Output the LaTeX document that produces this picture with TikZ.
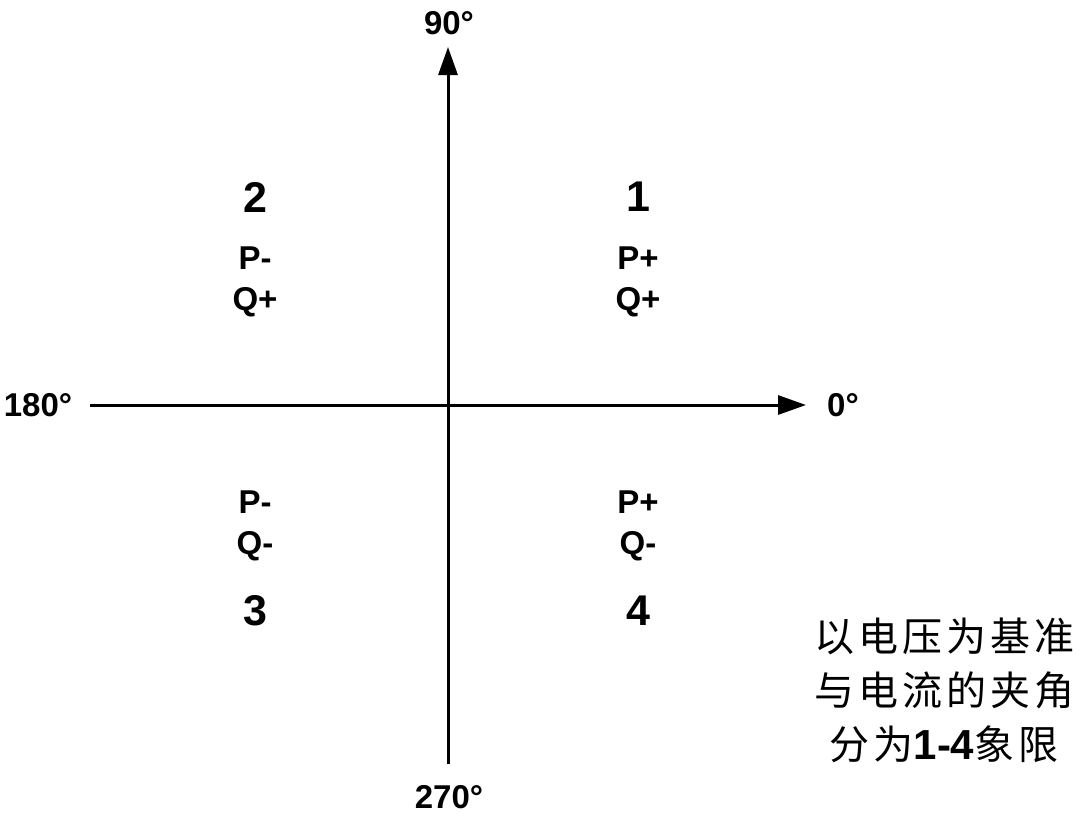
\documentclass[tikz,border=0pt]{standalone}
\usepackage{fontspec}
\setmainfont{Liberation Sans}
\newfontfamily\cjk{Noto Sans CJK SC}
\usetikzlibrary{arrows.meta}
\newcommand{\gp}{\hspace{4pt}}
\begin{document}
\begin{tikzpicture}[x=1pt,y=-1pt,
  axis/.style={line width=3pt,-{Triangle[length=28pt,width=19pt]}},
  deg/.style={font=\fontsize{33}{33}\selectfont\bfseries,inner sep=0pt},
  qnum/.style={font=\fontsize{43}{43}\selectfont\bfseries,inner sep=0pt},
  sign/.style={font=\fontsize{33}{41}\selectfont\bfseries,inner sep=0pt,align=center},
  note/.style={font=\fontsize{40}{54}\selectfont\cjk,inner sep=0pt,align=center}]
\useasboundingbox (0,0) rectangle (1080,819);
\coordinate (left) at (90,405);
\coordinate (right) at (806,405);
\coordinate (bottom) at (448,764);
\coordinate (top) at (448,47);
\draw[axis] (left) -- (right);
\draw[axis] (bottom) -- (top);
\node[deg] (d90) at (449,23) {90°};
\node[deg] (d0) at (843,405) {0°};
\node[deg] (d180) at (38,405) {180°};
\node[deg] (d270) at (449,797) {270°};
\node[qnum] (q1) at (638,197) {1};
\node[qnum] (q2) at (255,197) {2};
\node[qnum] (q3) at (255,611) {3};
\node[qnum] (q4) at (638,611) {4};
\node[sign] (s1) at (638,282) {P+\\Q+};
\node[sign] (s2) at (255,282) {P-\\Q+};
\node[sign] (s3) at (255,526) {P-\\Q-};
\node[sign] (s4) at (638,526) {P+\\Q-};
\node[note] (txt) at (944,690) {以\gp 电\gp 压\gp 为\gp 基\gp 准\\与\gp 电\gp 流\gp 的\gp 夹\gp 角\\分\gp 为{\rmfamily\bfseries\fontsize{42}{54}\selectfont 1-4}象\gp 限};
\end{tikzpicture}
\end{document}
